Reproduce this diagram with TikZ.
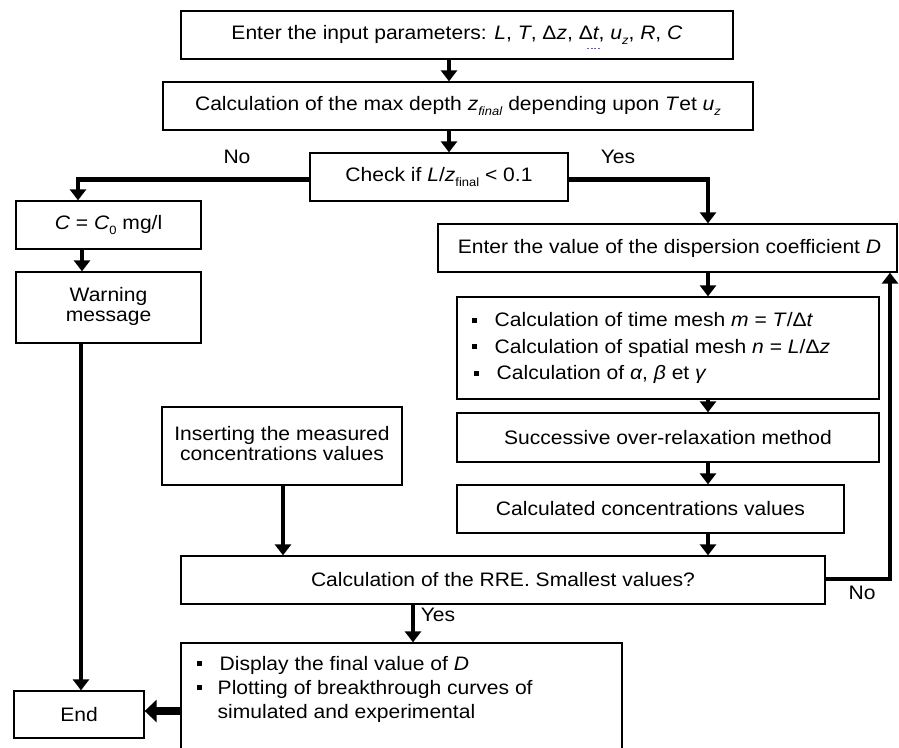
\documentclass[tikz,border=0pt]{standalone}
\usepackage{fontspec}
\setmainfont{Liberation Sans}[FakeStretch=1.08]
\usetikzlibrary{arrows.meta}
\newcommand\mysub[1]{\raisebox{-0.45ex}{\fontsize{12}{12}\selectfont #1}}
\newcommand\bul{\rule[0.2em]{5pt}{5pt}}
\begin{document}
\begin{tikzpicture}[x=1pt,y=-1pt,
  box/.style={draw=black, line width=1.3pt, inner sep=0pt, align=center, font=\fontsize{19.5}{21}\selectfont},
  txt/.style={inner sep=0pt, align=left, font=\fontsize{19.5}{21}\selectfont},
  arr/.style={line width=4.6pt, -{Triangle[width=16pt,length=11pt]}},
  bigarr/.style={line width=8pt, -{Triangle[width=22pt,length=12pt]}},
  lbl/.style={inner sep=0pt, font=\fontsize{19.5}{21}\selectfont}]
\path[use as bounding box] (0,0) rectangle (899,747);
\clip (0,0) rectangle (899,747);

% boxes
\node[box, minimum width=552pt, minimum height=48pt] (b1) at (457,35)
  {Enter the input parameters: \textit{L}, \textit{T}, Δ\textit{z}, Δ\textit{t}, \textit{u}\mysub{\textit{z}}, \textit{R}, \textit{C}};
\node[box, minimum width=590pt, minimum height=48pt] (b2) at (458,106)
  {Calculation of the max depth \textit{z}\mysub{\textit{final}} depending upon \textit{T}et \textit{u}\mysub{\textit{z}}};
\node[box, minimum width=258pt, minimum height=48pt] (b3) at (439,177)
  {Check if \textit{L}/\textit{z}\mysub{final} < 0.1};
\node[box, minimum width=185pt, minimum height=48pt] (bC) at (108.5,225)
  {\textit{C} = \textit{C}\mysub{0} mg/l};
\node[box, minimum width=185pt, minimum height=71pt, font=\fontsize{19.5}{21}\selectfont] (bW) at (108.5,307.5)
  {\raisebox{4pt}{\begin{tabular}{@{}c@{}}Warning\\[-1pt] message\end{tabular}}};
\node[box, minimum width=459pt, minimum height=48pt] (bD) at (667.5,248)
  {\hspace{4pt}Enter the value of the dispersion coefficient \textit{D}};
\node[box, minimum width=422pt, minimum height=102pt] (bM) at (668,348) {};
\node[txt, anchor=west, font=\fontsize{19.5}{26.5}\selectfont] (tM) at (471.5,348)
  {\bul\hspace{18pt}Calculation of time mesh \textit{m} = \textit{T}/Δ\textit{t}\\
   \bul\hspace{18pt}Calculation of spatial mesh \textit{n} = \textit{L}/Δ\textit{z}\\
   \hspace{2pt}\bul\hspace{18pt}Calculation of \textit{α}, \textit{β} et \textit{γ}};
\node[box, minimum width=422pt, minimum height=49pt] (bS) at (668,437.5)
  {Successive over-relaxation method};
\node[box, minimum width=387pt, minimum height=48pt] (bCC) at (650.5,509)
  {Calculated concentrations values};
\node[box, minimum width=240pt, minimum height=78pt, font=\fontsize{19.5}{21}\selectfont] (bI) at (282,446)
  {\raisebox{3pt}{\begin{tabular}{@{}c@{}}Inserting the measured\\[-1pt] concentrations values\end{tabular}}};
\node[box, minimum width=644pt, minimum height=48pt] (bR) at (503,580)
  {Calculation of the RRE. Smallest values?};
\node[box, minimum width=441pt, minimum height=117pt] (bF) at (401.5,701.5) {};
\node[txt, anchor=west, font=\fontsize{19.5}{24}\selectfont] (tF) at (196.5,689)
  {\bul\hspace{18pt}Display the final value of \textit{D}\\
   \bul\hspace{16pt}Plotting of breakthrough curves of\\
   \hspace{21pt}simulated and experimental};
\node[box, minimum width=130pt, minimum height=47pt] (bE) at (79,714.5) {End};

% small blue dotted mark under the second delta (as in the source)
\draw[blue!65!white, line width=0.8pt, dash pattern=on 2pt off 1.5pt] (587,48) -- (601,48);

% reference x / y positions
\coordinate (x449) at (449,0);
\coordinate (xno) at (78,0);
\coordinate (x82) at (82,0);
\coordinate (x81) at (81,0);
\coordinate (x708) at (708,0);
\coordinate (x283) at (283,0);
\coordinate (x413) at (413,0);
\coordinate (x890) at (890,0);
\coordinate (y711) at (0,711);
\coordinate (y579) at (0,579);
\coordinate (y179) at (0,179.5);

% connectors
\draw[arr] (b1.south -| x449) -- (b2.north -| x449);
\draw[arr] (b2.south -| x449) -- (b3.north -| x449);
\draw[arr] (b3.west |- y179) -| (bC.north -| xno);
\draw[arr] (bC.south -| x82) -- (bW.north -| x82);
\draw[arr] (bW.south -| x81) -- (bE.north -| x81);
\draw[arr] (b3.east |- y179) -| (bD.north -| x708);
\draw[arr] (bD.south -| x708) -- (bM.north -| x708);
\draw[arr] (bM.south -| x708) -- (bS.north -| x708);
\draw[arr] (bS.south -| x708) -- (bCC.north -| x708);
\draw[arr] (bCC.south -| x708) -- (bR.north -| x708);
\draw[arr] (bI.south -| x283) -- (bR.north -| x283);
\draw[arr] (bR.south -| x413) -- (bF.north -| x413);
\draw[arr] (bR.east |- y579) -| (bD.south -| x890);
\draw[bigarr] (bF.west |- y711) -- (bE.east |- y711);

% labels
\node[lbl] (lNo1) at (237,157) {No};
\node[lbl] (lYes1) at (618,157) {Yes};
\node[lbl] (lNo2) at (862,593) {No};
\node[lbl] (lYes2) at (438,615) {Yes};
\end{tikzpicture}
\end{document}
